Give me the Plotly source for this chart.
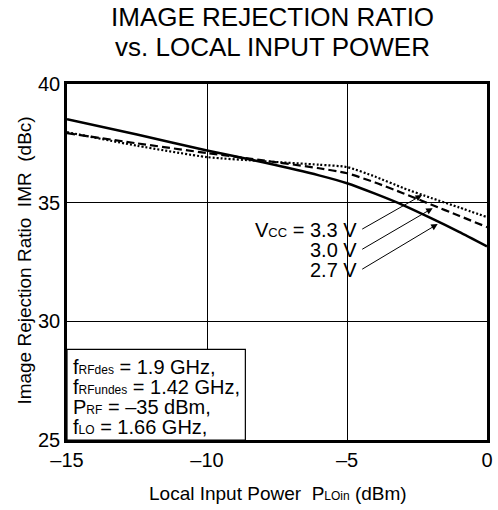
import plotly.graph_objects as go

x_dbm = [-15, -12.5, -10, -8, -6, -5, -4, -3, -2, -1, 0]
imr_27 = [38.52, 37.87, 37.2, 36.7, 36.15, 35.82, 35.38, 34.9, 34.35, 33.77, 33.16]
imr_30 = [37.93, 37.5, 37.09, 36.78, 36.45, 36.24, 35.85, 35.4, 34.92, 34.45, 33.97]
imr_33 = [37.97, 37.4, 36.92, 36.75, 36.6, 36.5, 36.1, 35.62, 35.2, 34.8, 34.39]

x_ticks = [-15, -10, -5, 0]
x_ticktext = ["\u201315", "\u201310", "\u20135", "0"]
y_ticks = [25, 30, 35, 40]
y_ticktext = ["25", "30", "35", "40"]

FONT = "Liberation Sans, Arial, sans-serif"
L, R, T, B = 67, 493, 84, 440
PW, PH = R - L, B - T


def px(xp):
    return (xp - L) / PW


def py(yp):
    return (B - yp) / PH


fig = go.Figure()
fig.add_trace(go.Scatter(x=x_dbm, y=imr_27, mode="lines", line=dict(color="black", width=2.5, shape="spline", smoothing=0.6), name="2.7 V"))
fig.add_trace(go.Scatter(x=x_dbm, y=imr_30, mode="lines", line=dict(color="black", width=2.2, dash="8px,4px", shape="spline", smoothing=0.6), name="3.0 V"))
fig.add_trace(go.Scatter(x=x_dbm, y=imr_33, mode="lines", line=dict(color="black", width=2.2, dash="2px,2px", shape="spline", smoothing=0.6), name="3.3 V"))

# conditions box
fig.add_shape(type="rect", xref="x", yref="y", x0=-15, x1=-8.63, y0=25, y1=28.82,
              line=dict(color="black", width=1.2), fillcolor="white", layer="above")
sm = "<span style='font-size:12px'>%s</span>"
cond_lines = [
    "f" + sm % "RFdes" + " = 1.9 GHz,",
    "f" + sm % "RFundes" + " = 1.42 GHz,",
    "P" + sm % "RF" + " = \u201335 dBm,",
    "f" + sm % "LO" + " = 1.66 GHz,",
]
cond_y = [367, 387, 407, 427]
for t, yy in zip(cond_lines, cond_y):
    fig.add_annotation(xref="paper", yref="paper", x=px(72), y=py(yy), xanchor="left", yanchor="middle",
                       text=t, showarrow=False, align="left", borderpad=0,
                       font=dict(family=FONT, size=20, color="black"))

# Vcc labels with arrows
labels = ["V" + "<span style='font-size:13px'>CC</span>" + " = 3.3 V", "3.0 V", "2.7 V"]
label_y = [33.85, 33.0, 32.16]
tip_x = [-2.32, -1.94, -1.76]
tip_y = [35.32, 34.77, 34.1]
for lab, ly, tx, ty in zip(labels, label_y, tip_x, tip_y):
    fig.add_annotation(x=tx, y=ty, ax=-4.51, ay=ly, xref="x", yref="y", axref="x", ayref="y",
                       showarrow=True, arrowhead=2, arrowsize=1.3, arrowwidth=1, arrowcolor="black",
                       text="", standoff=0)
    fig.add_annotation(x=-4.6, y=ly, xref="x", yref="y", xanchor="right", yanchor="middle",
                       text=lab, showarrow=False, borderpad=0,
                       font=dict(family=FONT, size=20, color="black"))

# title
fig.add_annotation(xref="paper", yref="paper", x=px(275), y=py(17), yanchor="middle",
                   text="IMAGE REJECTION RATIO", showarrow=False,
                   font=dict(family=FONT, size=26, color="black"))
fig.add_annotation(xref="paper", yref="paper", x=px(275), y=py(47), yanchor="middle",
                   text="vs. LOCAL INPUT POWER", showarrow=False,
                   font=dict(family=FONT, size=26, color="black"))
# axis titles
fig.add_annotation(xref="paper", yref="paper", x=px(281), y=py(493), yanchor="middle",
                   text="Local Input Power  P<span style='font-size:12px'>LOin</span> (dBm)",
                   showarrow=False, font=dict(family=FONT, size=19, color="black"))
fig.add_annotation(xref="paper", yref="paper", x=px(23), y=py(261), xanchor="center",
                   text="Image Rejection Ratio  IMR  (dBc)", textangle=-90,
                   showarrow=False, font=dict(family=FONT, size=19, color="black"))

fig.update_xaxes(range=[-15, 0], tickvals=x_ticks, ticktext=x_ticktext, showgrid=True,
                 gridcolor="black", gridwidth=1, showline=True, linecolor="black", linewidth=2.5,
                 mirror=True, ticks="", zeroline=False, tickfont=dict(family=FONT, size=20, color="black"))
fig.update_yaxes(range=[25, 40], tickvals=y_ticks, ticktext=y_ticktext, showgrid=True,
                 gridcolor="black", gridwidth=1, showline=True, linecolor="black", linewidth=2.5,
                 mirror=True, ticks="", zeroline=False, tickfont=dict(family=FONT, size=20, color="black"))

fig.update_layout(width=498, height=510, margin=dict(l=L, r=498 - R, t=T, b=510 - B),
                  paper_bgcolor="white", plot_bgcolor="white", showlegend=False,
                  font=dict(family=FONT, color="black"))

fig.write_html("out.html", config={"displayModeBar": False},
               post_script="document.body.style.margin='0';")
